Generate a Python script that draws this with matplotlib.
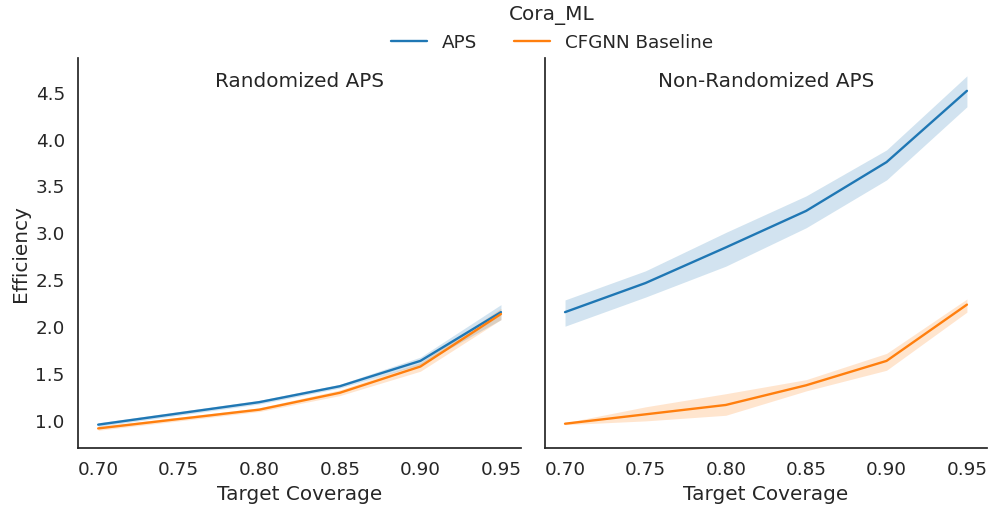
import matplotlib
matplotlib.use("Agg")
import matplotlib.pyplot as plt
import seaborn as sns

coverage = [0.70, 0.75, 0.80, 0.85, 0.90, 0.95]

# Randomized APS panel
aps_rand_mean = [0.96, 1.08, 1.20, 1.37, 1.64, 2.16]
aps_rand_lo = [0.94, 1.06, 1.18, 1.35, 1.60, 2.08]
aps_rand_hi = [0.98, 1.10, 1.22, 1.39, 1.68, 2.24]
cfgnn_rand_mean = [0.92, 1.02, 1.12, 1.30, 1.58, 2.14]
cfgnn_rand_lo = [0.90, 1.00, 1.10, 1.27, 1.53, 2.08]
cfgnn_rand_hi = [0.94, 1.04, 1.14, 1.33, 1.62, 2.20]

# Non-randomized APS panel
aps_nonrand_mean = [2.16, 2.47, 2.85, 3.24, 3.76, 4.52]
aps_nonrand_lo = [2.01, 2.32, 2.65, 3.06, 3.57, 4.35]
aps_nonrand_hi = [2.29, 2.60, 3.01, 3.40, 3.89, 4.68]
cfgnn_nonrand_mean = [0.97, 1.07, 1.17, 1.38, 1.64, 2.24]
cfgnn_nonrand_lo = [0.96, 1.00, 1.06, 1.32, 1.54, 2.16]
cfgnn_nonrand_hi = [0.98, 1.15, 1.29, 1.44, 1.72, 2.30]

panel_titles = ["Randomized APS", "Non-Randomized APS"]
series_names = ["APS", "CFGNN Baseline"]
dataset_name = "Cora_ML"

sns.set_theme(style="white", context="notebook", font_scale=1.2)
plt.rcParams["font.family"] = ["DejaVu Sans"]

palette = sns.color_palette("tab10")
c_aps, c_cfgnn = palette[0], palette[1]

fig = plt.figure(figsize=(9.89, 5.13), dpi=100)
ax1 = fig.add_axes([0.0789, 0.1267, 0.448, 0.760])
ax2 = fig.add_axes([0.551, 0.1267, 0.447, 0.760], sharey=ax1)

panels = [
    (ax1, (aps_rand_mean, aps_rand_lo, aps_rand_hi),
     (cfgnn_rand_mean, cfgnn_rand_lo, cfgnn_rand_hi)),
    (ax2, (aps_nonrand_mean, aps_nonrand_lo, aps_nonrand_hi),
     (cfgnn_nonrand_mean, cfgnn_nonrand_lo, cfgnn_nonrand_hi)),
]

handles = []
for (ax, aps, cfg), title in zip(panels, panel_titles):
    h = []
    for (mean, lo, hi), color, name in zip((aps, cfg), (c_aps, c_cfgnn), series_names):
        line, = ax.plot(coverage, mean, color=color, lw=1.7, label=name)
        ax.fill_between(coverage, lo, hi, color=color, alpha=0.2, lw=0)
        h.append(line)
    handles = h
    ax.set_xlabel("Target Coverage")
    ax.set_xticks(coverage)
    ax.set_xticklabels([f"{c:.2f}" for c in coverage])
    ax.text(0.5, 0.94, title, transform=ax.transAxes, ha="center", va="center",
            fontsize=14.4, color=".15")
    sns.despine(ax=ax)

ax1.set_ylabel("Efficiency")
ax1.set_yticks([1.0, 1.5, 2.0, 2.5, 3.0, 3.5, 4.0, 4.5])
plt.setp(ax2.get_yticklabels(), visible=False)

leg = fig.legend(handles, series_names, title=dataset_name, ncol=2, frameon=False,
                 loc="upper center", bbox_to_anchor=(0.558, 1.023),
                 fontsize=13.2, title_fontsize=14.4, columnspacing=2.0)

fig.savefig("out.png", dpi=100)
